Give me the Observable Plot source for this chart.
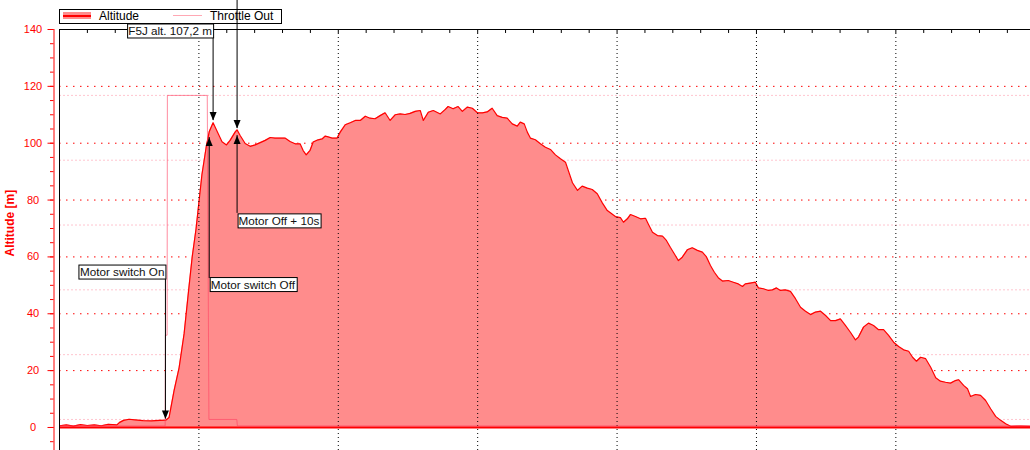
<!DOCTYPE html>
<html><head><meta charset="utf-8">
<script src="https://cdn.jsdelivr.net/npm/d3@7"></script>
<script src="https://cdn.jsdelivr.net/npm/@observablehq/plot@0.6"></script>
<style>
body{margin:0;background:#fff;font-family:"Liberation Sans",Arial,sans-serif;}
#wrap{position:relative;width:1030px;height:450px;overflow:hidden}
#legend{position:absolute;left:59px;top:9px;width:223px;height:15px;box-sizing:border-box;border:1px solid #000;background:#fff;z-index:0;font-size:12px;color:#000}
#legend span{position:absolute;top:0;line-height:13px;white-space:nowrap}
#chart{position:absolute;left:0;top:0;z-index:1}
</style></head>
<body>
<div id="wrap">
  <div id="legend"></div>
  <div id="chart"></div>
</div>
<script>
// ---- data (time in s, altitude in m) ----
const times = [
  0, 2.5, 5, 7.5, 10, 12.5, 15, 17.5, 20.6, 21.6,
  23, 25, 27, 30, 33, 36, 38.2, 39.3, 41.1, 42.9,
  44.7, 46.4, 47.6, 49.0, 50.1, 51.1, 52.6, 53.7, 55.1, 56.9,
  58.3, 59.9, 61.2, 63.0, 63.7, 64.8, 66.6, 68.4, 70.2, 73.8,
  75.6, 77.3, 80.9, 82.7, 84.5, 86.3, 87.4, 88.5, 89.9, 91.0,
  92.8, 94.2, 95.3, 96.4, 97.8, 99.6, 100.7, 102.5, 104.3, 106.1,
  107.9, 109.7, 111.4, 113.2, 115.0, 116.8, 118.6, 120.4, 122.2, 124.0,
  125.8, 127.6, 129.4, 130.5, 132.3, 134.1, 136.6, 138.4, 139.4, 141.2,
  143.0, 144.5, 146.3, 148.1, 149.9, 151.7, 153.4, 155.2, 157.0, 158.8,
  160.6, 162.4, 164.2, 165.3, 166.7, 167.8, 168.9, 170.7, 172.5, 174.3,
  176.1, 177.9, 179.7, 181.5, 182.5, 184.0, 185.8, 187.5, 189.3, 191.1,
  192.9, 194.7, 196.5, 197.6, 199.4, 201.2, 202.3, 203.7, 204.8, 206.6,
  208.4, 210.2, 211.2, 212.7, 214.5, 216.3, 217.7, 219.1, 220.9, 222.0,
  223.4, 225.2, 227.0, 228.8, 230.6, 232.0, 233.5, 234.9, 236.3, 237.8,
  239.9, 241.7, 243.5, 245.0, 246.0, 247.8, 249.6, 250.7, 252.5, 254.3,
  255.7, 257.2, 258.6, 260.4, 262.2, 264.0, 265.8, 267.6, 269.4, 271.2,
  273.0, 274.8, 276.6, 278.4, 280.1, 281.9, 283.7, 285.5, 286.6, 288.4,
  290.2, 292.0, 293.8, 295.6, 297.4, 299.2, 301.0, 302.8, 304.6, 306.0,
  307.4, 308.9, 310.7, 312.5, 314.3, 316.0, 317.8, 319.6, 321.4, 322.5,
  324.3, 325.7, 326.8, 328.6, 330.4, 332.2, 334.0, 335.8, 337.6, 339.4,
  341.2, 344.8, 348.3
];
const altitudes = [
  0.6, 0.9, 0.5, 1.0, 0.7, 0.9, 0.6, 1.1, 0.9, 1.8,
  2.5, 2.9, 2.7, 2.4, 2.3, 2.5, 2.6, 3.5, 13, 21,
  33, 49, 60, 70, 80, 89, 98.5, 104, 107.2, 103.4,
  100.5, 99.4, 101, 103.9, 104.7, 102.7, 99.9, 98.9, 99.4, 101,
  102, 101.8, 101.8, 100.6, 99.8, 99.8, 97.4, 95.9, 97.5, 100.4,
  101.2, 101.5, 102.5, 102.2, 101.8, 101.8, 103.9, 106.5, 107.2, 108,
  108, 109.5, 108.8, 108.6, 109.7, 110.7, 108, 110, 110.3, 110.1,
  110.5, 111.2, 111.5, 108, 110.9, 111.5, 110.3, 111.9, 112.9, 112.1,
  112.9, 111.2, 112.7, 112.3, 110.7, 110.7, 111, 112.3, 109.7, 109.1,
  108.8, 106.8, 106, 107.4, 106.8, 103.9, 101.8, 101.2, 99.8, 98.6,
  97.8, 95.9, 94.5, 93.3, 90.4, 86.1, 83.4, 84.9, 84.2, 83.7,
  82.2, 79, 76.3, 75.5, 74.2, 73.8, 72.2, 73.4, 74.9, 74.2,
  73.4, 73.6, 71.6, 68.7, 67.5, 67.3, 65.8, 63.4, 60.5, 58.7,
  59.9, 62.5, 63.2, 62.3, 61.7, 60.1, 57, 54.6, 52.7, 51.5,
  51.7, 51.1, 50.5, 49.6, 50.5, 50.8, 51.1, 49.1, 48.8, 48.2,
  48.4, 49.1, 48.2, 48.4, 47.9, 45.3, 42.3, 40.9, 39.7, 40.6,
  40.9, 39.4, 37.6, 37.6, 38.2, 35.9, 33.5, 30.8, 31.8, 35.3,
  36.7, 35.9, 34.4, 34.4, 32.4, 30, 28.5, 27.3, 26.8, 24.7,
  23.3, 24.7, 24.2, 21.2, 17.5, 16.3, 15.9, 15.6, 16.5, 16.8,
  14.8, 13.6, 10.9, 11.6, 11.3, 9.5, 6.6, 3.9, 2.5, 1.3,
  0.4, 0.5, 0.4
];
// throttle output (%), secondary scale
const throttleTimes  = [0, 37.9, 38.0, 38.6, 38.7, 53.0, 53.6, 63.6, 63.8, 348.3];
const throttleValues = [-2, -2, 26, 26, 100, 100, 0, 0, -2, -2];
const throttleGrid = [0, 20, 40, 60, 80, 100];

const yTicks = [0, 20, 40, 60, 80, 100, 120, 140];
const yMinorTicks = d3.range(-5, 141, 5);
const yGrid = [20, 40, 60, 80, 100, 120];
const xGrid = [50, 100, 150, 200, 250, 300];
const xMinor = d3.range(10, 350, 10);
const yLabel = "Altitude [m]";
const legendLabels = ["Altitude", "Throttle Out"];

// annotations
const annotLabels   = ["Motor switch On", "Motor switch Off", "Motor Off + 10s", "F5J alt. 107,2 m"];
const annotTimes    = [38.0, 53.7, 63.7, 55.1];
const annotLabelAlt = [54.5, 50.1, 72.5, 139.3];
const annotAnchor   = ["end", "start", "start", "end"];
const arrowTimes = [38.0, 53.7, 63.7, 55.1, 63.7];
const arrowFrom  = [52.1, 52.4, 75.3, 136.8, 152];
const arrowTip   = [3.0, 102.0, 102.7, 108.0, 105.2];
const arrowDir   = ["down", "up", "up", "down", "down"];

// throttle % -> altitude-axis position (secondary axis alignment)
const thrToAlt = v => 2.82 + 1.14 * v;

const altData = times.map((t, i) => ({t, alt: altitudes[i]}));
const thrData = throttleTimes.map((t, i) => ({t, v: thrToAlt(throttleValues[i])}));
const labels = annotLabels.map((label, i) => ({label, t: annotTimes[i], y: annotLabelAlt[i], anchor: annotAnchor[i]}));
const arrows = arrowTimes.map((t, i) => ({t, from: arrowFrom[i], tip: arrowTip[i], dir: arrowDir[i]}));

const downHead = {draw(ctx) { ctx.moveTo(0, 0); ctx.lineTo(-3.5, -8.5); ctx.lineTo(3.5, -8.5); ctx.closePath(); }};
const upHead   = {draw(ctx) { ctx.moveTo(0, 0); ctx.lineTo(-3.5, 8.5); ctx.lineTo(3.5, 8.5); ctx.closePath(); }};

const FONT = "'Liberation Sans', Arial, sans-serif";

const chart = Plot.plot({
  width: 1030, height: 450,
  marginLeft: 59, marginTop: 29, marginRight: 0, marginBottom: 0,
  style: {background: "transparent", fontFamily: FONT, overflow: "visible"},
  x: {domain: [0, 348.3], axis: null},
  y: {domain: [-8.1, 140], axis: null},
  marks: [
    Plot.ruleY(throttleGrid.map(thrToAlt), {stroke: "#ff4060", strokeOpacity: 0.3, strokeDasharray: "2,2"}),
    Plot.ruleY(yGrid, {stroke: "red", strokeDasharray: "1.5,5.5"}),
    Plot.areaY(altData, {x: "t", y: "alt", fill: "#ff8c8c"}),
    Plot.lineY(altData, {x: "t", y: "alt", stroke: "red", strokeWidth: 1.2}),
    Plot.ruleY([0], {stroke: "red", strokeWidth: 2}),
    Plot.ruleX(xGrid, {stroke: "black", strokeDasharray: "1,3"}),
    Plot.line(thrData, {x: "t", y: "v", stroke: "#ff4060", strokeOpacity: 0.6, strokeWidth: 1}),
    Plot.ruleX([0], {stroke: "black"}),
    Plot.ruleY([140], {stroke: "black"}),
    Plot.ruleX(xMinor, {y1: 140, y2: 138.6, stroke: "black"}),
    Plot.ruleX([0], {dx: -5.5, stroke: "red"}),
    Plot.axisY({ticks: yTicks, tickSize: 6, text: null, dx: -5.5, color: "red", label: null}),
    Plot.axisY({ticks: yMinorTicks, tickSize: 3.5, text: null, dx: -5.5, color: "red", label: null}),
    Plot.text(yTicks, {x: 0, y: d => d, text: d => String(d), dx: -26.5, textAnchor: "middle", fill: "red", fontSize: 11}),
    Plot.text([{label: yLabel, y: 60.15}], {y: "y", text: "label", frameAnchor: "left", dx: -49, rotate: -90, fill: "red", fontWeight: "bold", fontSize: 12}),
    Plot.ruleX(arrows, {x: "t", y1: "from", y2: "tip", stroke: "black"}),
    Plot.dot(arrows.filter(d => d.dir === "down"), {x: "t", y: "tip", symbol: downHead, fill: "black", stroke: "none"}),
    Plot.dot(arrows.filter(d => d.dir === "up"), {x: "t", y: "tip", symbol: upHead, fill: "black", stroke: "none"}),
    Plot.text(labels.filter(d => d.anchor === "end"), {x: "t", y: "y", text: "label", textAnchor: "end", dx: -1, fontSize: 11.7, fill: "#111"}),
    Plot.text(labels.filter(d => d.anchor === "start"), {x: "t", y: "y", text: "label", textAnchor: "start", dx: 1.5, fontSize: 11.7, fill: "#111"})
  ]
});
document.getElementById("chart").appendChild(chart);

// white framed boxes behind annotation labels
chart.querySelectorAll("text").forEach(el => {
  if (!annotLabels.includes(el.textContent)) return;
  const bb = el.getBBox();
  const r = document.createElementNS("http://www.w3.org/2000/svg", "rect");
  r.setAttribute("x", Math.round(bb.x - 1.5) + 0.5);
  r.setAttribute("y", Math.round(bb.y + bb.height / 2 - 7) + 0.5);
  r.setAttribute("width", Math.round(bb.width + 2.5));
  r.setAttribute("height", 14);
  const tr = el.getAttribute("transform");
  if (tr) r.setAttribute("transform", tr);
  r.setAttribute("fill", "white");
  r.setAttribute("stroke", "black");
  r.setAttribute("stroke-width", 1);
  el.parentNode.insertBefore(r, el);
});

// legend
const lg = document.getElementById("legend");
lg.innerHTML =
  `<div style="position:absolute;left:3px;top:2px;width:28px;height:7px;background:#ff8c8c"></div>` +
  `<div style="position:absolute;left:3px;top:4.5px;width:28px;height:2px;background:red"></div>` +
  `<span style="left:39px">${legendLabels[0]}</span>` +
  `<div style="position:absolute;left:113px;top:5px;width:29px;height:1px;background:#ffa8b4"></div>` +
  `<span style="left:150px">${legendLabels[1]}</span>`;
</script>
</body></html>
